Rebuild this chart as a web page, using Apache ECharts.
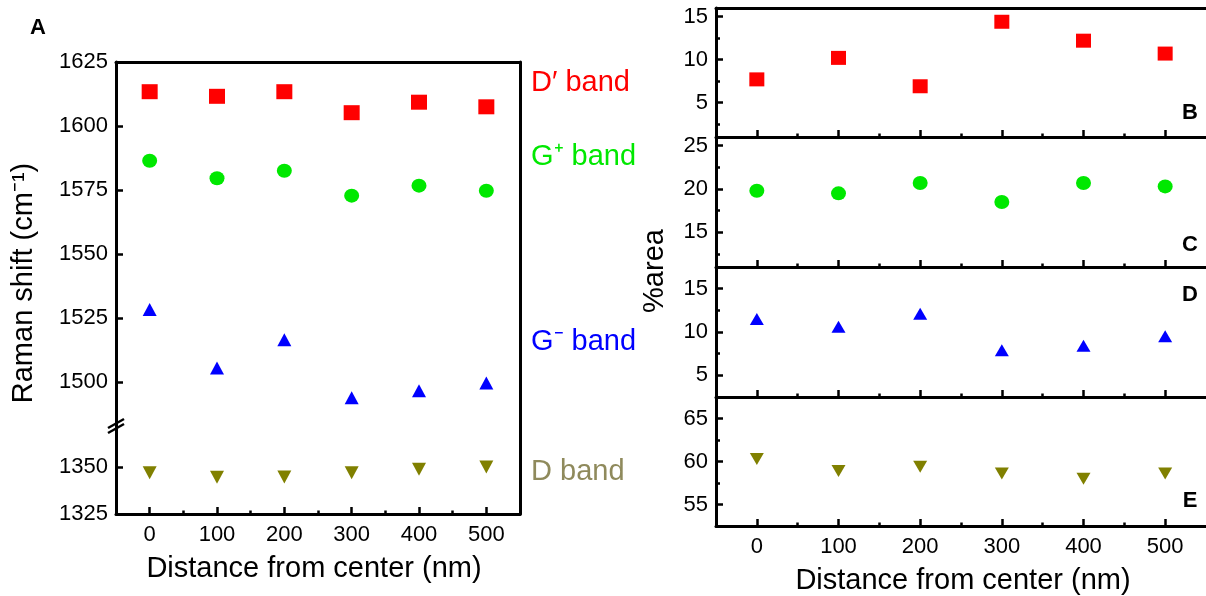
<!DOCTYPE html>
<html>
<head>
<meta charset="utf-8">
<script src="https://cdn.jsdelivr.net/npm/echarts@6.0.0/dist/echarts.min.js"></script>
<style>
  html, body { margin: 0; padding: 0; background: #fff; }
  #chart { width: 1206px; height: 596px; }
</style>
</head>
<body>
<div id="chart"></div>
<script>
// ---------- data ----------
const distances = [0, 100, 200, 300, 400, 500];
const xTickValues = [0, 100, 200, 300, 400, 500];
const xMinorTickValues = [50, 150, 250, 350, 450];

// Panel A: Raman shift (cm-1)
const shiftDprime = [1613.4, 1611.6, 1613.4, 1605.2, 1609.3, 1607.5];
const shiftGplus  = [1586.4, 1579.6, 1582.5, 1572.8, 1576.7, 1574.7];
const shiftGminus = [1528.3, 1505.5, 1516.5, 1493.9, 1496.6, 1499.6];
const shiftD      = [1347.0, 1344.6, 1344.7, 1347.0, 1348.8, 1350.0];
const shiftUpperTicks = [1500, 1525, 1550, 1575, 1600, 1625];
const shiftLowerTicks = [1325, 1350];

// Panels B-E: %area
const areaDprime = [7.7, 10.2, 6.9, 14.4, 12.2, 10.7];
const areaGplus  = [19.8, 19.5, 20.7, 18.5, 20.7, 20.3];
const areaGminus = [11.5, 10.6, 12.1, 7.9, 8.4, 9.5];
const areaD      = [60.3, 58.9, 59.4, 58.6, 58.0, 58.6];
const areaTicksB = [5, 10, 15],  areaMinorB = [2.5, 7.5, 12.5];
const areaTicksC = [15, 20, 25], areaMinorC = [12.5, 17.5, 22.5];
const areaTicksD = [5, 10, 15],  areaMinorD = [7.5, 12.5];
const areaTicksE = [55, 60, 65], areaMinorE = [57.5, 62.5];

const bandNames = ["D\u2032 band", "G\u207A band", "G\u207B band", "D band"];
const panelLetters = ["A", "B", "C", "D", "E"];

// ---------- styles ----------
const FONT = "'Liberation Sans', Arial, Helvetica, sans-serif";
const RED = '#ff0000', GREEN = '#00e800', BLUE = '#0000ff', OLIVE = '#808000', OLIVE_TXT = '#8f8a5c';
const LINE = { color: '#000', width: 3 };
const TICK = { color: '#000', width: 2.5 };
const plain = v => String(v);

const grids = [], xAxes = [], yAxes = [], series = [];
function pushTo(arr, o) { arr.push(o); return arr.length - 1; }

function xMain(g, showLabels) {
  return pushTo(xAxes, {
    gridIndex: g, type: 'value', position: 'bottom', min: -50, max: 550,
    axisLine: { show: true, onZero: false, lineStyle: LINE },
    axisTick: { show: true, inside: true, length: 7, lineStyle: TICK, customValues: xTickValues },
    axisLabel: { show: showLabels, customValues: xTickValues, formatter: plain, fontSize: 22, color: '#000', fontFamily: FONT, margin: 10 },
    splitLine: { show: false }
  });
}
function xMinor(g) {
  return pushTo(xAxes, {
    gridIndex: g, type: 'value', position: 'bottom', min: -50, max: 550,
    axisLine: { show: false, onZero: false },
    axisTick: { show: true, inside: true, length: 3.5, lineStyle: TICK, customValues: xMinorTickValues },
    axisLabel: { show: false }, splitLine: { show: false }
  });
}
function xTop(g) {
  return pushTo(xAxes, {
    gridIndex: g, type: 'value', position: 'top', min: -50, max: 550,
    axisLine: { show: true, onZero: false, lineStyle: LINE },
    axisTick: { show: false }, axisLabel: { show: false }, splitLine: { show: false }
  });
}
function yMain(g, min, max, ticks) {
  return pushTo(yAxes, {
    gridIndex: g, type: 'value', position: 'left', min: min, max: max,
    axisLine: { show: true, onZero: false, lineStyle: LINE },
    axisTick: { show: true, inside: true, length: 7, lineStyle: TICK, customValues: ticks },
    axisLabel: { show: true, customValues: ticks, formatter: plain, fontSize: 22, color: '#000', fontFamily: FONT, margin: 8 },
    splitLine: { show: false }
  });
}
function yMinor(g, min, max, ticks) {
  return pushTo(yAxes, {
    gridIndex: g, type: 'value', position: 'left', min: min, max: max,
    axisLine: { show: false, onZero: false },
    axisTick: { show: true, inside: true, length: 4, lineStyle: TICK, customValues: ticks },
    axisLabel: { show: false }, splitLine: { show: false }
  });
}
function yRight(g, min, max) {
  return pushTo(yAxes, {
    gridIndex: g, type: 'value', position: 'right', min: min, max: max,
    axisLine: { show: true, onZero: false, lineStyle: LINE },
    axisTick: { show: false }, axisLabel: { show: false }, splitLine: { show: false }
  });
}
function scatter(xi, yi, vals, symbol, size, color, rotate) {
  series.push({
    type: 'scatter', xAxisIndex: xi, yAxisIndex: yi,
    data: distances.map((d, i) => [d, vals[i]]),
    symbol: symbol, symbolSize: size, symbolRotate: rotate || 0,
    itemStyle: { color: color, opacity: 1 }, emphasis: { disabled: true }
  });
}

// ---------- Panel A (broken axis: two grids) ----------
const gA1 = pushTo(grids, { left: 116, top: 62, width: 404, height: 362 });
const gA2 = pushTo(grids, { left: 116, top: 424, width: 404, height: 90 });
const upMin = 1483.6, upMax = 1625, loMin = 1325, loMax = 1372.9;
const xA1 = xTop(gA1);
const yA1 = yMain(gA1, upMin, upMax, shiftUpperTicks);
yRight(gA1, upMin, upMax);
const xA2 = xMain(gA2, true);
xMinor(gA2);
const yA2 = yMain(gA2, loMin, loMax, shiftLowerTicks);
yRight(gA2, loMin, loMax);
scatter(xA1, yA1, shiftDprime, 'rect', [16, 15], RED);
scatter(xA1, yA1, shiftGplus, 'circle', [15, 14], GREEN);
scatter(xA1, yA1, shiftGminus, 'triangle', [14, 13], BLUE);
scatter(xA2, yA2, shiftD, 'triangle', [14, 13], OLIVE, 180);

// ---------- Panels B-E ----------
const panels = [
  { top: 8,   h: 129, min: 1,    max: 16,   ticks: areaTicksB, minor: areaMinorB, vals: areaDprime, sym: 'rect', size: [15, 14], color: RED },
  { top: 137, h: 130, min: 11,   max: 26,   ticks: areaTicksC, minor: areaMinorC, vals: areaGplus,  sym: 'circle', size: [15, 14], color: GREEN },
  { top: 267, h: 130, min: 2.5,  max: 17.5, ticks: areaTicksD, minor: areaMinorD, vals: areaGminus, sym: 'triangle', size: [14, 12], color: BLUE },
  { top: 397, h: 129, min: 52.5, max: 67.5, ticks: areaTicksE, minor: areaMinorE, vals: areaD,      sym: 'triangle', size: [14, 12], color: OLIVE, rot: 180 }
];
panels.forEach((p, k) => {
  const g = pushTo(grids, { left: 716, top: p.top, width: 500, height: p.h });
  const xi = xMain(g, k === 3);
  xMinor(g);
  if (k === 0) xTop(g);
  const yi = yMain(g, p.min, p.max, p.ticks);
  yMinor(g, p.min, p.max, p.minor);
  scatter(xi, yi, p.vals, p.sym, p.size, p.color, p.rot);
});

// ---------- texts & decorations ----------
function txt(x, y, s, o) {
  return {
    type: 'text', x: x, y: y, silent: true,
    style: Object.assign({ text: s, fontFamily: FONT, fontSize: 29, fill: '#000', textAlign: 'center', textVerticalAlign: 'middle' }, o || {})
  };
}
const graphic = [
  txt(38, 28, panelLetters[0], { fontSize: 22, fontWeight: 'bold' }),
  txt(1190, 113, panelLetters[1], { fontSize: 22, fontWeight: 'bold' }),
  txt(1190, 245, panelLetters[2], { fontSize: 22, fontWeight: 'bold' }),
  txt(1190, 295, panelLetters[3], { fontSize: 22, fontWeight: 'bold' }),
  txt(1190, 501, panelLetters[4], { fontSize: 22, fontWeight: 'bold' }),
  txt(531, 83, bandNames[0], { textAlign: 'left', fill: RED }),
  txt(531, 157, bandNames[1], { textAlign: 'left', fill: GREEN }),
  txt(531, 342, bandNames[2], { textAlign: 'left', fill: BLUE }),
  txt(531, 472, bandNames[3], { textAlign: 'left', fill: OLIVE_TXT }),
  txt(314, 569, 'Distance from center (nm)'),
  txt(963, 581, 'Distance from center (nm)'),
  { type: 'text', x: 24, y: 283, rotation: Math.PI / 2, silent: true,
    style: { text: 'Raman shift (cm\u207B\u00B9)', fontFamily: FONT, fontSize: 29, fill: '#000', textAlign: 'center', textVerticalAlign: 'middle' } },
  { type: 'text', x: 655, y: 271, rotation: Math.PI / 2, silent: true,
    style: { text: '%area', fontFamily: FONT, fontSize: 29, fill: '#000', textAlign: 'center', textVerticalAlign: 'middle' } },
  // axis break marks
  { type: 'line', silent: true, shape: { x1: 108, y1: 428, x2: 124, y2: 419 }, style: { stroke: '#000', lineWidth: 2.5 } },
  { type: 'line', silent: true, shape: { x1: 108, y1: 433, x2: 124, y2: 424 }, style: { stroke: '#000', lineWidth: 2.5 } }
];

const chart = echarts.init(document.getElementById('chart'), null, { renderer: 'canvas' });
chart.setOption({
  animation: false,
  backgroundColor: '#fff',
  grid: grids, xAxis: xAxes, yAxis: yAxes, series: series, graphic: graphic
});
</script>
</body>
</html>
